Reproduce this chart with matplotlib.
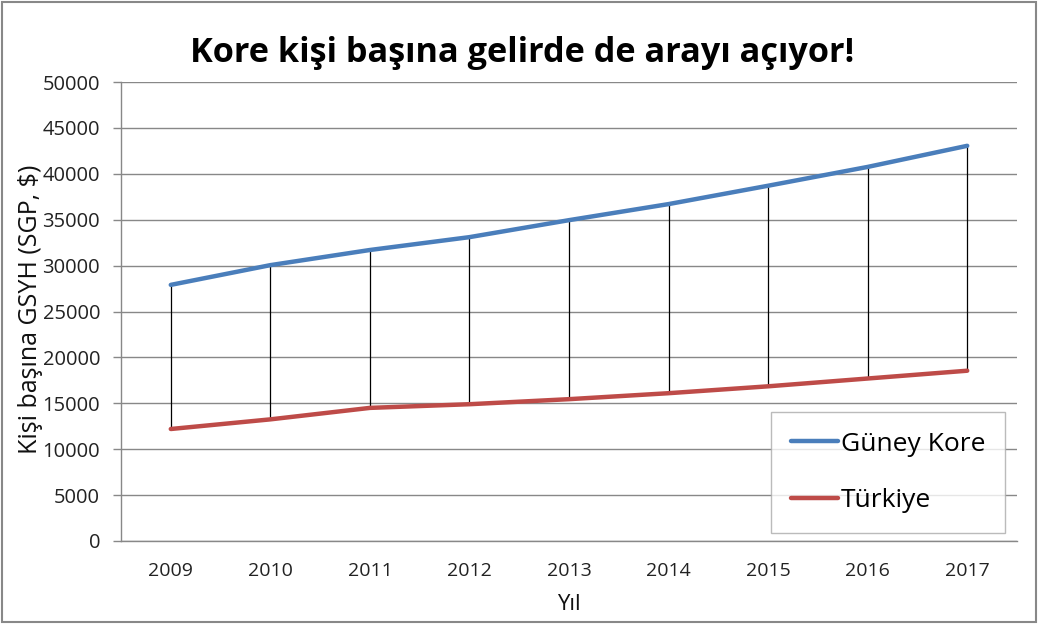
import matplotlib
matplotlib.use("Agg")
import matplotlib.pyplot as plt
from matplotlib.patches import Rectangle

years = ["2009", "2010", "2011", "2012", "2013", "2014", "2015", "2016", "2017"]
kore = [27900, 30050, 31700, 33100, 34950, 36700, 38700, 40750, 43050]
turkiye = [12200, 13250, 14500, 14900, 15450, 16100, 16850, 17700, 18550]
yticks = [0, 5000, 10000, 15000, 20000, 25000, 30000, 35000, 40000, 45000, 50000]

plt.rcParams['font.family'] = ['Open Sans', 'DejaVu Sans']

fig = plt.figure(figsize=(10.38, 6.24), dpi=100)
ax = fig.add_axes([121/1038, 1-541/624, (1017-121)/1038, (541-82)/624])

x = list(range(len(years)))
ax.vlines(x, turkiye, kore, colors='black', linewidth=0.9, zorder=2)
ax.plot(x, kore, color='#4a7ebb', linewidth=3.2, label='Güney Kore', zorder=3, solid_capstyle='round')
ax.plot(x, turkiye, color='#be4b48', linewidth=3.2, label='Türkiye', zorder=3, solid_capstyle='round')

ax.set_xlim(-0.5, len(years) - 0.5)
ax.set_ylim(0, 50000)
ax.set_yticks(yticks)
ax.set_yticklabels([str(v) for v in yticks], fontsize=14.5, color='#222222')
ax.set_xticks(x)
ax.set_xticklabels(years, fontsize=14, color='#222222')
ax.tick_params(axis='x', length=0, pad=15)
ax.tick_params(axis='y', length=6, width=1, color='#888888', pad=9)
ax.grid(axis='y', color='#888888', linewidth=1)
ax.set_axisbelow(True)
for s in ['top', 'right']:
    ax.spines[s].set_visible(False)
for s in ['left', 'bottom']:
    ax.spines[s].set_color('#888888')
    ax.spines[s].set_linewidth(1)

ax.set_ylabel('Kişi başına GSYH (SGP, $)', fontsize=18, color='#111111', va='center')
ax.yaxis.set_label_coords((30-121)/896, (541-309)/459)
ax.set_xlabel('Yıl', fontsize=16, color='#111111', va='center')
ax.xaxis.set_label_coords(0.5, (541-604)/459)

fig.text(0.5035, 1-53/624, 'Kore kişi başına gelirde de arayı açıyor!', ha='center', va='center',
         fontsize=24.7, fontweight='bold', family=['Open Sans', 'DejaVu Sans'])

leg = ax.legend(loc='lower right', bbox_to_anchor=((1005-121)/896, (541-533)/459),
                fontsize=19, frameon=True, fancybox=False, edgecolor='#aaaaaa',
                handlelength=1.8, labelspacing=1.2, borderpad=0.75, handletextpad=0.1,
                borderaxespad=0)
leg.get_frame().set_linewidth(1)

fig.patches.append(Rectangle((0.002, 0.003), 0.996, 0.994, transform=fig.transFigure,
                             fill=False, edgecolor='#888888', linewidth=1.5))

fig.savefig('out.png', dpi=100)
